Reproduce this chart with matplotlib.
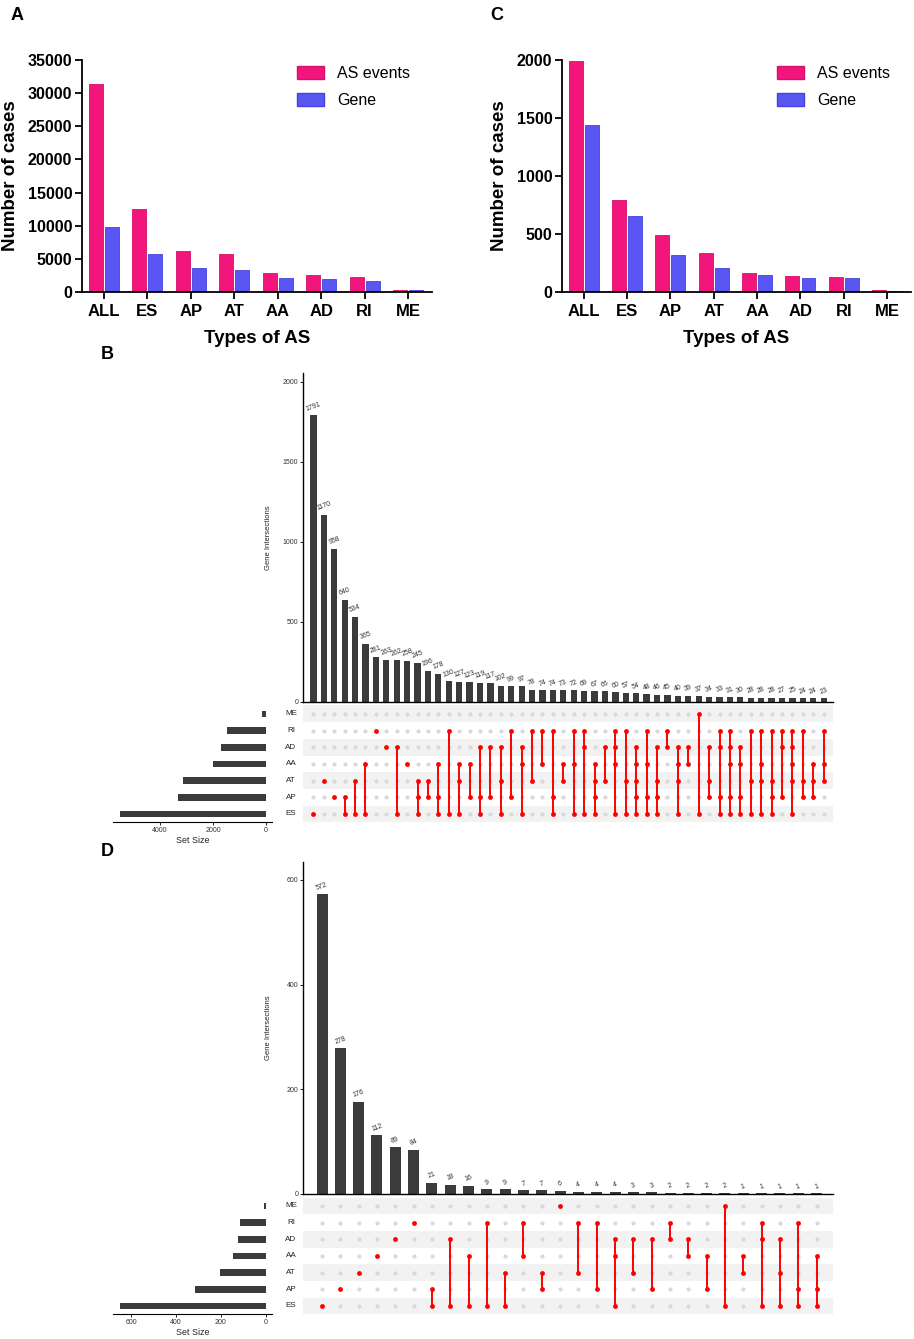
import numpy as np
import matplotlib
matplotlib.use('Agg')
import matplotlib.pyplot as plt
from matplotlib.patches import Patch

plt.rcParams['font.family'] = ['Liberation Sans', 'DejaVu Sans']

W, H = 914, 1339

# panels A and C
types = ['ALL', 'ES', 'AP', 'AT', 'AA', 'AD', 'RI', 'ME']
a_events = [31430, 12570, 6240, 5780, 2820, 2510, 2310, 350]
a_genes = [9810, 5730, 3570, 3370, 2160, 1910, 1610, 300]
c_events = [1995, 790, 490, 335, 160, 138, 128, 18]
c_genes = [1440, 658, 322, 205, 150, 125, 117, 11]

# panels B and D (upset plots), sets listed top to bottom
sets = ['ME', 'RI', 'AD', 'AA', 'AT', 'AP', 'ES']
b_set_size = [150, 1470, 1710, 1990, 3140, 3330, 5510]
b_counts = [1791, 1170, 958, 640, 534, 365, 281, 263, 262, 258,
            245, 196, 178, 130, 127, 123, 119, 117, 102, 99,
            97, 78, 74, 74, 73, 72, 69, 67, 66, 60,
            57, 54, 48, 46, 45, 40, 39, 37, 34, 33,
            31, 30, 28, 28, 28, 27, 25, 24, 24, 23]
b_combos = ['ES', 'AT', 'AP', 'AP ES', 'AT ES', 'AA ES', 'RI', 'AD', 'AD ES', 'AA',
            'AT AP ES', 'AT AP', 'AA AP ES', 'RI ES', 'AA AT ES', 'AA AP', 'AD AP ES', 'AD AP', 'AD AT ES', 'RI AP',
            'AD AA ES', 'RI AT', 'RI AA', 'RI AP ES', 'AA AT', 'RI AA ES', 'RI AD ES', 'AA AT AP ES', 'AD AT', 'RI AD AA ES',
            'RI AT ES', 'AD AA AT AP ES', 'RI AA AP ES', 'AD AT AP ES', 'RI AD', 'AD AA AT ES', 'AD AA', 'ME ES', 'AD AT AP', 'RI AD AP ES',
            'RI AD AA AP ES', 'AD AA AP ES', 'RI AT ES', 'RI AA AT ES', 'RI AT AP ES', 'RI AD AP', 'RI AD AA AT ES', 'RI AT AP', 'AA AT AP', 'RI AA AT']

d_set_size = [9, 113, 122, 146, 202, 317, 652]
d_counts = [572, 278, 176, 112, 89, 84, 21, 18, 16, 9, 9, 7, 7, 6,
            4, 4, 4, 3, 3, 2, 2, 2, 2, 1, 1, 1, 1, 1]
d_combos = ['ES', 'AP', 'AT', 'AA', 'AD', 'RI', 'AP ES', 'AD ES', 'AA ES', 'RI ES',
            'AT ES', 'RI AA', 'AT AP', 'ME', 'RI AT', 'RI AP', 'AD AA ES', 'AD AT', 'AD AP', 'RI AD',
            'AD AA', 'AA AP', 'ME ES', 'AA AT', 'RI AD ES', 'AD AT ES', 'RI AP ES', 'AA AP ES']

PINK = '#F2167C'
BLUE = '#5A56F4'
RED = '#FF0000'
DARK = '#3B3B3B'


def rect(x0, y0, x1, y1):
    return [x0 / W, 1 - y1 / H, (x1 - x0) / W, (y1 - y0) / H]


def bar_panel(ax, events, genes, ymax, step, leg_x):
    x = np.arange(len(types))
    ax.bar(x - 0.185, events, 0.32, color=PINK, edgecolor='#D6106B', linewidth=0.6)
    ax.bar(x + 0.185, genes, 0.32, color=BLUE, edgecolor='#4242DC', linewidth=0.6)
    ax.set_xlim(-0.5, 7.55)
    ax.set_ylim(0, ymax)
    ax.set_yticks(np.arange(0, ymax + 1, step))
    ax.set_xticks(x)
    ax.set_xticklabels(types, fontsize=12, fontweight='bold')
    for lab in ax.get_yticklabels():
        lab.set_fontweight('bold')
        lab.set_fontsize(11.5)
    ax.spines[['top', 'right']].set_visible(False)
    ax.spines[['left', 'bottom']].set_linewidth(1.3)
    ax.tick_params(width=1.3, length=5)
    ax.tick_params(axis='y', pad=2)
    ax.set_xlabel('Types of AS', fontsize=13.5, fontweight='bold', labelpad=8)
    ax.set_ylabel('Number of cases', fontsize=13.5, fontweight='bold', labelpad=6.5)
    handles = [Patch(facecolor=PINK, edgecolor='#D6106B'), Patch(facecolor=BLUE, edgecolor='#4242DC')]
    ax.legend(handles, ['AS events', 'Gene'], loc='upper left',
              bbox_to_anchor=(leg_x / W, 1 - 66 / H), bbox_transform=fig.transFigure,
              frameon=False, fontsize=11.5, handlelength=1.7, handleheight=0.85,
              handletextpad=0.8, labelspacing=0.75, borderpad=0, borderaxespad=0)


def upset(ax_bar, ax_mat, ax_size, counts, combos, set_size, ymax, yticks, size_xlim, size_ticks, xlim):
    x = np.arange(len(counts))
    ax_bar.bar(x, counts, 0.6, color=DARK)
    for xi, v in zip(x, counts):
        ax_bar.text(xi, v + ymax * 0.008, str(v), rotation=20, ha='center', va='bottom',
                    fontsize=5, color='#333333')
    ax_bar.set_xlim(xlim)
    ax_bar.set_ylim(0, ymax)
    ax_bar.set_yticks(yticks)
    ax_bar.set_xticks([])
    ax_bar.spines[['top', 'right']].set_visible(False)
    ax_bar.spines[['left', 'bottom']].set_linewidth(1.0)
    ax_bar.tick_params(axis='y', labelsize=5, length=2, width=0.6, pad=1.5, labelcolor='#333333')
    ax_bar.set_ylabel('Gene Intersections', fontsize=5.5, color='#222222')
    ax_bar.yaxis.set_label_coords(-0.058, 0.5)

    ny = len(sets)
    for r in range(0, ny, 2):
        ax_mat.axhspan(r - 0.5, r + 0.5, color='#F2F2F2', lw=0, zorder=0)
    gx, gy = np.meshgrid(x, np.arange(ny))
    ax_mat.scatter(gx.ravel(), gy.ravel(), s=9, color='#D9D9D9', lw=0, zorder=1)
    for xi, combo in zip(x, combos):
        rows = [sets.index(s) for s in combo.split()]
        if len(rows) > 1:
            ax_mat.plot([xi, xi], [min(rows), max(rows)], color=RED, lw=1.4, zorder=2)
        ax_mat.scatter([xi] * len(rows), rows, s=12, color=RED, lw=0, zorder=3)
    ax_mat.set_xlim(xlim)
    ax_mat.set_ylim(ny - 0.5, -0.5)
    ax_mat.axis('off')
    for r, s in enumerate(sets):
        ax_mat.text(-0.0226, r, s, transform=ax_mat.get_yaxis_transform(),
                    ha='center', va='center', fontsize=5.8, color='#222222')

    ax_size.barh(np.arange(ny), set_size, 0.4, color=DARK)
    ax_size.set_ylim(ny - 0.5, -0.5)
    ax_size.set_xlim(size_xlim)
    ax_size.set_xticks(size_ticks)
    ax_size.set_yticks([])
    ax_size.spines[['top', 'right', 'left']].set_visible(False)
    ax_size.spines['bottom'].set_linewidth(0.8)
    ax_size.tick_params(axis='x', labelsize=5, length=2, width=0.6, pad=1.5, labelcolor='#333333')
    ax_size.set_xlabel('Set Size', fontsize=6.4, labelpad=1.5, color='#222222')


fig = plt.figure(figsize=(W / 100, H / 100), dpi=100)

axA = fig.add_axes(rect(82, 60, 432, 292))
bar_panel(axA, a_events, a_genes, 35000, 5000, 297)
axC = fig.add_axes(rect(562, 60, 911, 292))
bar_panel(axC, c_events, c_genes, 2000, 500, 777)

axB_bar = fig.add_axes(rect(303, 372.7, 833, 702))
axB_mat = fig.add_axes(rect(303, 705.5, 833, 822.3))
axB_size = fig.add_axes(rect(113, 705.5, 272, 822.3))
upset(axB_bar, axB_mat, axB_size, b_counts, b_combos, b_set_size, 2058,
      [0, 500, 1000, 1500, 2000], (5770, -226), [4000, 2000, 0], (-1.0, 49.9))

axD_bar = fig.add_axes(rect(303, 862, 833, 1194))
axD_mat = fig.add_axes(rect(303, 1197.5, 833, 1314.3))
axD_size = fig.add_axes(rect(113, 1197.5, 272, 1314.3))
upset(axD_bar, axD_mat, axD_size, d_counts, d_combos, d_set_size, 634,
      [0, 200, 400, 600], (682, -28), [600, 400, 200, 0], (-1.04, 27.9))

for lab, px, py in [('A', 17, 16), ('C', 497, 16), ('B', 107, 355), ('D', 107, 851)]:
    fig.text(px / W, 1 - py / H, lab, fontsize=13, fontweight='bold', ha='center', va='center')

fig.savefig('out.png', dpi=100)
